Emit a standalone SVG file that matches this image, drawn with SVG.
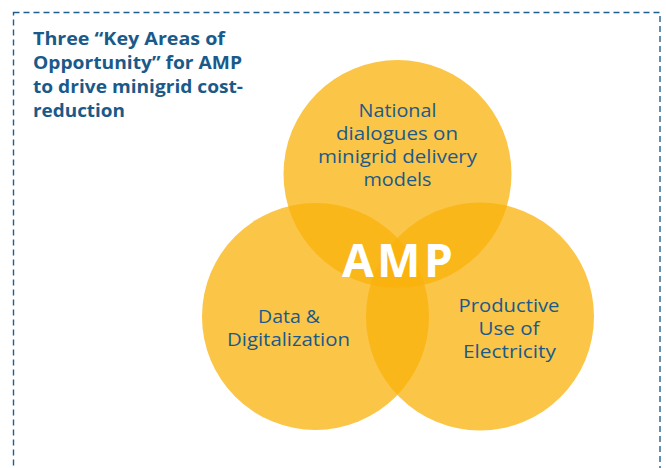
<svg xmlns="http://www.w3.org/2000/svg" width="666" height="468" viewBox="0 0 666 468">
<style>
.frame{fill:none;stroke:#1f5f8f;stroke-width:1.4;stroke-dasharray:6 4}
.circ{fill:#FAB20B;fill-opacity:0.75}
.title{font-family:"Open Sans","Liberation Sans",sans-serif;font-weight:700;font-size:18px;fill:#1a5a8a}
.lbl{font-family:"Open Sans","Liberation Sans",sans-serif;font-size:18px;fill:#1a5a8a;text-anchor:middle}
.amp{font-family:"Open Sans","Liberation Sans",sans-serif;font-weight:700;font-size:46px;fill:#ffffff}
</style>
<rect width="666" height="468" fill="#ffffff"/>
<rect class="frame" x="13.5" y="12.5" width="646.5" height="470"/>
<g id="title" class="title">
<text x="33" y="45" textLength="192" lengthAdjust="spacingAndGlyphs">Three “Key Areas of</text>
<text x="33" y="69" textLength="209" lengthAdjust="spacingAndGlyphs">Opportunity” for AMP</text>
<text x="33" y="93" textLength="210" lengthAdjust="spacingAndGlyphs">to drive minigrid cost-</text>
<text x="33" y="117" textLength="92" lengthAdjust="spacingAndGlyphs">reduction</text>
</g>
<g id="circles">
<g id="national"><circle class="circ" cx="397.5" cy="174" r="114"/></g>
<g id="data"><circle class="circ" cx="315.5" cy="316.5" r="113.5"/></g>
<g id="productive"><circle class="circ" cx="480" cy="316.5" r="114"/></g>
</g>
<g id="labels">
<text class="lbl" x="397.5" y="117" textLength="78" lengthAdjust="spacingAndGlyphs">National</text>
<text class="lbl" x="397" y="140" textLength="122" lengthAdjust="spacingAndGlyphs">dialogues on</text>
<text class="lbl" x="397.5" y="163" textLength="159" lengthAdjust="spacingAndGlyphs">minigrid delivery</text>
<text class="lbl" x="397.5" y="186" textLength="68" lengthAdjust="spacingAndGlyphs">models</text>
<text class="lbl" x="289" y="323" textLength="62" lengthAdjust="spacingAndGlyphs">Data &amp;</text>
<text class="lbl" x="288.5" y="346" textLength="123" lengthAdjust="spacingAndGlyphs">Digitalization</text>
<text class="lbl" x="509" y="312" textLength="101" lengthAdjust="spacingAndGlyphs">Productive</text>
<text class="lbl" x="509" y="335" textLength="61" lengthAdjust="spacingAndGlyphs">Use of</text>
<text class="lbl" x="509.5" y="358" textLength="93" lengthAdjust="spacingAndGlyphs">Electricity</text>
<text class="amp" x="342 377 424" y="277">AMP</text>
</g>
</svg>
